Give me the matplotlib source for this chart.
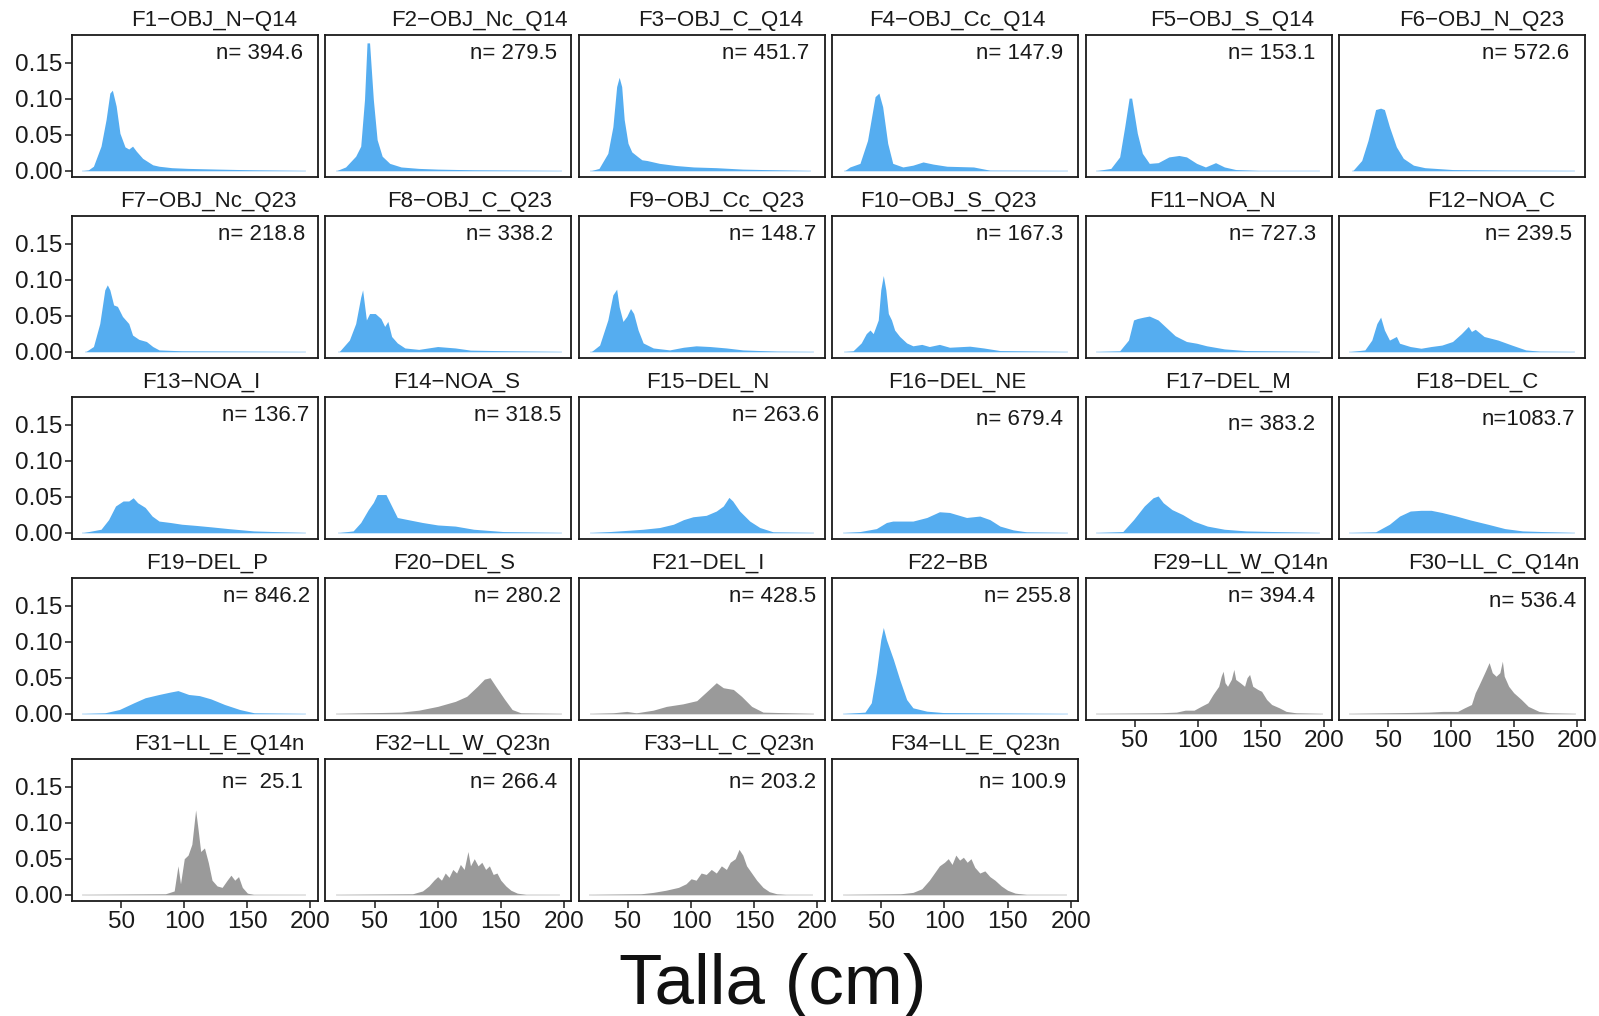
import numpy as np
import matplotlib
matplotlib.use('Agg')
from matplotlib import pyplot as plt

plt.rcParams['font.family'] = ['Liberation Sans', 'DejaVu Sans']

# distribuciones de talla por flota: (talla cm, densidad)
f01 = [(20, 0), (24, 0.001), (28, 0.006), (34, 0.034), (38, 0.071), (41, 0.108), (43, 0.112), (46, 0.090),
       (49, 0.052), (53, 0.033), (56, 0.030), (59, 0.034), (62, 0.027), (67, 0.017), (75, 0.008), (80, 0.006),
       (90, 0.004), (103, 0.003), (127, 0.002), (155, 0.001), (196, 0)]
f02 = [(20, 0), (27, 0.005), (35, 0.020), (39, 0.034), (42, 0.099), (44, 0.178), (46, 0.178), (49, 0.099),
       (52, 0.043), (56, 0.020), (62, 0.010), (71, 0.005), (85, 0.003), (100, 0.002), (129, 0.001), (198, 0)]
f03 = [(21, 0), (27, 0.003), (34, 0.024), (38, 0.061), (41, 0.117), (43, 0.130), (45, 0.117), (47, 0.071),
       (50, 0.038), (53, 0.026), (58, 0.019), (61, 0.015), (65, 0.014), (75, 0.010), (88, 0.007), (102, 0.005),
       (120, 0.004), (141, 0.002), (194, 0)]
f04 = [(21, 0), (25, 0.005), (33, 0.010), (39, 0.042), (45, 0.103), (48, 0.108), (51, 0.089), (55, 0.038),
       (59, 0.010), (67, 0.005), (75, 0.0075), (83, 0.012), (91, 0.009), (102, 0.006), (123, 0.005),
       (136, 0.0005), (197, 0)]
f05 = [(20, 0), (31, 0.003), (38, 0.019), (42, 0.061), (45.5, 0.101), (47.5, 0.101), (52, 0.052), (56, 0.024),
       (61.5, 0.010), (68.5, 0.011), (77, 0.019), (85, 0.021), (91, 0.019), (99, 0.010), (106, 0.005),
       (114, 0.011), (121, 0.005), (130, 0.0014), (149, 0), (196, 0)]
f06 = [(22, 0), (29, 0.014), (34, 0.042), (40, 0.085), (44, 0.087), (47, 0.085), (51, 0.061), (56.5, 0.033),
       (62, 0.017), (70, 0.0075), (79, 0.004), (101, 0.0014), (143, 0.0005), (197, 0)]
f07 = [(22, 0), (28, 0.007), (33, 0.039), (37, 0.086), (39, 0.093), (41, 0.086), (44, 0.065), (47, 0.063),
       (51, 0.049), (56, 0.039), (59, 0.023), (64, 0.017), (70, 0.014), (75, 0.007), (80, 0.0023),
       (98, 0.001), (196, 0)]
f08 = [(22, 0), (30, 0.016), (35, 0.039), (39, 0.076), (40.5, 0.086), (43.5, 0.044), (46, 0.053), (50.5, 0.053),
       (55, 0.046), (58, 0.035), (60.5, 0.042), (63.5, 0.021), (68, 0.012), (74, 0.005), (85, 0.003),
       (100, 0.007), (114, 0.005), (126, 0.002), (157, 0.001), (198, 0)]
f09 = [(21, 0), (27.5, 0.009), (34, 0.044), (38, 0.079), (41, 0.087), (43, 0.0625), (46, 0.042), (49, 0.049),
       (52, 0.060), (54.5, 0.053), (58, 0.030), (62, 0.012), (70, 0.005), (83, 0.0023), (94, 0.006),
       (104, 0.008), (115, 0.007), (128, 0.005), (141, 0.0023), (168, 0.0005), (197, 0)]
f10 = [(21, 0), (27.5, 0.001), (34, 0.012), (38, 0.025), (41, 0.030), (43.5, 0.025), (47.5, 0.044), (49.5, 0.086),
       (51.5, 0.106), (53.5, 0.086), (55.5, 0.053), (58, 0.044), (60.5, 0.030), (64.5, 0.021), (70, 0.012),
       (75, 0.008), (82, 0.010), (88, 0.007), (96, 0.010), (104, 0.006), (120, 0.0075), (131, 0.005),
       (144, 0.0014), (197, 0)]
f11 = [(20, 0), (38, 0.001), (45, 0.016), (49, 0.044), (52, 0.046), (57, 0.048), (61.5, 0.0495), (68.5, 0.044),
       (74, 0.035), (82, 0.022), (91, 0.014), (99, 0.0116), (107, 0.008), (121, 0.0037), (138, 0.0014),
       (177, 0.0005), (196, 0)]
f12 = [(20, 0), (31.5, 0.0023), (37, 0.016), (41, 0.039), (44, 0.048), (47, 0.030), (51, 0.016), (56.5, 0.021),
       (59, 0.0116), (67.5, 0.007), (76, 0.0046), (84, 0.007), (92.5, 0.009), (101, 0.014), (108, 0.025),
       (113.5, 0.035), (116, 0.028), (119, 0.031), (126, 0.021), (137, 0.016), (148, 0.009), (159, 0.0023),
       (170, 0.0005), (197, 0)]
f13 = [(20, 0), (34, 0.0046), (40, 0.018), (45.5, 0.037), (51.5, 0.044), (56, 0.044), (59.5, 0.0485), (63, 0.0416),
       (69, 0.035), (74.5, 0.023), (80, 0.016), (89, 0.014), (98, 0.0116), (109, 0.010), (121, 0.008),
       (135, 0.0055), (155, 0.0023), (196, 0)]
f14 = [(22, 0), (33, 0.0023), (39, 0.014), (45, 0.032), (49, 0.042), (52, 0.053), (59, 0.053), (63.5, 0.037),
       (68, 0.021), (76.5, 0.018), (88, 0.014), (100, 0.0106), (114, 0.009), (128.5, 0.0046), (152, 0.0014),
       (198, 0)]
f15 = [(21, 0), (35.5, 0.0014), (49, 0.003), (62, 0.0046), (75, 0.007), (86, 0.0116), (94, 0.018), (101.5, 0.022),
       (112, 0.024), (120, 0.030), (125.5, 0.037), (130, 0.049), (133, 0.044), (138.5, 0.030), (146.5, 0.016),
       (154.5, 0.007), (165, 0.001), (197, 0)]
f16 = [(20, 0), (33, 0.0014), (46, 0.0055), (54, 0.014), (59, 0.016), (75, 0.016), (86, 0.021), (96, 0.029),
       (104, 0.028), (117.5, 0.021), (128, 0.023), (136, 0.018), (144, 0.009), (154.5, 0.0037), (165, 0.001),
       (197, 0)]
f17 = [(20, 0), (40.5, 0.0014), (49, 0.018), (57.5, 0.037), (64.5, 0.0485), (68.5, 0.051), (72.5, 0.0416),
       (79.5, 0.032), (88, 0.025), (96.5, 0.016), (107.5, 0.009), (121, 0.0046), (138, 0.0023), (196, 0)]
f18 = [(20, 0), (40, 0.001), (51, 0.0116), (59, 0.023), (67.5, 0.030), (76, 0.031), (84, 0.031), (92.5, 0.028),
       (104, 0.023), (115, 0.0176), (129, 0.0116), (142.5, 0.0055), (156.5, 0.0023), (197, 0)]
f19 = [(20, 0), (37, 0.001), (48.5, 0.0056), (60, 0.015), (69, 0.022), (80, 0.0266), (89, 0.030), (95, 0.032),
       (103.5, 0.0266), (112, 0.025), (121, 0.0205), (132, 0.0126), (144, 0.0056), (155.5, 0.001), (196, 0)]
f20 = [(20, 0), (42, 0.001), (71, 0.002), (85, 0.0047), (100, 0.010), (114, 0.017), (123, 0.024), (131.5, 0.038),
       (137, 0.048), (141.5, 0.050), (146, 0.038), (153, 0.020), (159, 0.0056), (166, 0.001), (198, 0)]
f21 = [(21, 0), (38, 0.001), (49, 0.003), (56.5, 0.001), (70, 0.0047), (80.5, 0.010), (93.5, 0.0135),
       (104.5, 0.018), (112, 0.030), (120, 0.043), (125.5, 0.036), (133.5, 0.0336), (140, 0.024), (148, 0.010),
       (157, 0.002), (178, 0.001), (197, 0)]
f22 = [(20, 0), (37, 0.002), (42, 0.015), (46, 0.057), (49.5, 0.103), (51.5, 0.120), (54, 0.103), (59.5, 0.0755),
       (64.5, 0.0475), (70, 0.0196), (75, 0.008), (86, 0.0033), (99, 0.0014), (197, 0)]
f29 = [(20, 0), (69, 0.001), (83, 0.002), (90, 0.0047), (97, 0.0047), (102.5, 0.010), (108, 0.015), (112, 0.0266),
       (116.5, 0.038), (118.5, 0.052), (120, 0.059), (121.5, 0.043), (123.5, 0.038), (126.5, 0.0475),
       (128.5, 0.0615), (130, 0.0475), (133.5, 0.043), (137, 0.038), (139, 0.050), (141, 0.0545), (143.5, 0.038),
       (147.5, 0.0336), (150.5, 0.031), (154.5, 0.0196), (158.5, 0.0126), (164.5, 0.008), (170, 0.003),
       (178, 0.001), (198, 0)]
f30 = [(20, 0), (82, 0.002), (93.5, 0.003), (105, 0.003), (110.5, 0.008), (116, 0.0126), (119, 0.029),
       (121.5, 0.038), (124, 0.0475), (127, 0.059), (130, 0.071), (132.5, 0.057), (135.5, 0.052), (138.5, 0.057),
       (140.5, 0.073), (142, 0.052), (145.5, 0.038), (149.5, 0.029), (155.5, 0.0196), (161, 0.010),
       (169.5, 0.003), (178, 0.001), (198, 0)]
f31 = [(20, 0), (85, 0.001), (92, 0.005), (95, 0.040), (97, 0.015), (100, 0.050), (103, 0.055), (106, 0.070),
       (109, 0.118), (111, 0.090), (113, 0.060), (116, 0.065), (119, 0.045), (122, 0.020), (126, 0.012),
       (130, 0.010), (134, 0.020), (137, 0.027), (140, 0.020), (143, 0.025), (146, 0.010), (150, 0.002),
       (155, 0), (196, 0)]
f32 = [(20, 0), (80, 0.001), (88, 0.005), (93, 0.012), (97, 0.020), (100, 0.025), (103, 0.020), (106, 0.030),
       (109, 0.024), (112, 0.035), (115, 0.030), (118, 0.042), (121, 0.035), (124, 0.060), (126, 0.040),
       (129, 0.050), (132, 0.040), (135, 0.045), (138, 0.035), (141, 0.040), (144, 0.028), (147, 0.030),
       (150, 0.020), (154, 0.012), (158, 0.006), (163, 0.002), (170, 0), (196, 0)]
f33 = [(20, 0), (60, 0.001), (70, 0.003), (80, 0.006), (90, 0.010), (96, 0.015), (100, 0.022), (104, 0.020),
       (108, 0.030), (112, 0.028), (116, 0.035), (120, 0.030), (124, 0.040), (128, 0.035), (131, 0.045),
       (135, 0.050), (138, 0.063), (141, 0.055), (144, 0.040), (148, 0.030), (152, 0.020), (157, 0.010),
       (162, 0.004), (168, 0.001), (175, 0), (196, 0)]
f34 = [(20, 0), (65, 0.001), (75, 0.003), (82, 0.008), (88, 0.020), (92, 0.030), (96, 0.040), (100, 0.045),
       (103, 0.050), (106, 0.042), (109, 0.055), (112, 0.048), (115, 0.052), (118, 0.045), (121, 0.050),
       (124, 0.038), (128, 0.030), (132, 0.033), (136, 0.025), (140, 0.020), (145, 0.012), (150, 0.006),
       (156, 0.002), (165, 0), (196, 0)]

curvas = [f01, f02, f03, f04, f05, f06, f07, f08, f09, f10, f11, f12, f13, f14,
          f15, f16, f17, f18, f19, f20, f21, f22, f29, f30, f31, f32, f33, f34]

flotas = ['F1−OBJ_N−Q14', 'F2−OBJ_Nc_Q14', 'F3−OBJ_C_Q14', 'F4−OBJ_Cc_Q14', 'F5−OBJ_S_Q14', 'F6−OBJ_N_Q23',
          'F7−OBJ_Nc_Q23', 'F8−OBJ_C_Q23', 'F9−OBJ_Cc_Q23', 'F10−OBJ_S_Q23', 'F11−NOA_N', 'F12−NOA_C',
          'F13−NOA_I', 'F14−NOA_S', 'F15−DEL_N', 'F16−DEL_NE', 'F17−DEL_M', 'F18−DEL_C',
          'F19−DEL_P', 'F20−DEL_S', 'F21−DEL_I', 'F22−BB', 'F29−LL_W_Q14n', 'F30−LL_C_Q14n',
          'F31−LL_E_Q14n', 'F32−LL_W_Q23n', 'F33−LL_C_Q23n', 'F34−LL_E_Q23n']

n_muestra = [394.6, 279.5, 451.7, 147.9, 153.1, 572.6, 218.8, 338.2, 148.7, 167.3, 727.3, 239.5,
             136.7, 318.5, 263.6, 679.4, 383.2, 1083.7, 846.2, 280.2, 428.5, 255.8, 394.4, 536.4,
             25.1, 266.4, 203.2, 100.9]

palangre = ['F20−DEL_S', 'F21−DEL_I', 'F29−LL_W_Q14n', 'F30−LL_C_Q14n',
            'F31−LL_E_Q14n', 'F32−LL_W_Q23n', 'F33−LL_C_Q23n', 'F34−LL_E_Q23n']

# colocación de títulos y etiquetas n (fracción del panel)
titulo_x = [0.577, 0.627, 0.575, 0.51, 0.596, 0.58,
            0.556, 0.585, 0.56, 0.47, 0.515, 0.62,
            0.527, 0.535, 0.525, 0.508, 0.578, 0.56,
            0.548, 0.523, 0.525, 0.47, 0.63, 0.63,
            0.6, 0.556, 0.608, 0.58]
n_x = [0.94, 0.94, 0.935, 0.94, 0.933, 0.937,
       0.95, 0.927, 0.965, 0.94, 0.937, 0.946,
       0.963, 0.96, 0.976, 0.94, 0.933, 0.958,
       0.967, 0.96, 0.963, 0.97, 0.933, 0.962,
       0.94, 0.94, 0.965, 0.95]
n_y = [0.87] * 15 + [0.84, 0.806, 0.84] + [0.87] * 5 + [0.835] * 5

azul, azul_claro = '#55adf0', '#d2e8fb'
gris, gris_claro = '#9a9a9a', '#e0e0e0'

W, H = 1599, 1016
fig = plt.figure(figsize=(W / 100, H / 100), dpi=100)

for i, (nombre, curva) in enumerate(zip(flotas, curvas)):
    fila, col = (i // 6, i % 6) if i < 24 else (4, i - 24)
    izq = 72 + 253.4 * col
    arriba = 35 + 181 * fila
    ax = fig.add_axes([izq / W, 1 - (arriba + 142) / H, 246 / W, 142 / H])

    x = [p[0] for p in curva]
    y = [p[1] for p in curva]
    c, c_claro = (gris, gris_claro) if nombre in palangre else (azul, azul_claro)
    ax.plot([x[0], x[-1]], [0, 0], color=c_claro, lw=1.3, zorder=1)
    ax.fill_between(x, y, color=c, lw=0, zorder=2)

    ax.set_xlim(11, 206)
    ax.set_ylim(-0.009, 0.189)
    for s in ax.spines.values():
        s.set_linewidth(1.3)
        s.set_color('#1a1a1a')

    ax.set_yticks([0, 0.05, 0.10, 0.15])
    ax.set_yticklabels(['0.00', '0.05', '0.10', '0.15'])
    ax.set_xticks([50, 100, 150, 200])
    ax.tick_params(length=5, width=1.1, pad=2, labelsize=17.5, colors='#1a1a1a')
    con_x = fila == 4 or (fila == 3 and col >= 4)
    ax.tick_params(left=col == 0, labelleft=col == 0, bottom=con_x, labelbottom=con_x)

    ax.text(titulo_x[i], 1.065, nombre, transform=ax.transAxes, ha='center', va='baseline',
            fontsize=16, color='#1a1a1a')
    ax.text(n_x[i], n_y[i], f'n={n_muestra[i]:6.1f}', transform=ax.transAxes, ha='right', va='center',
            fontsize=16, color='#1a1a1a')

fig.text(773 / W, 1 - 1004 / H, 'Talla (cm)', ha='center', va='baseline', fontsize=51, color='#111111')

fig.savefig('out.png', dpi=100)
plt.close(fig)
